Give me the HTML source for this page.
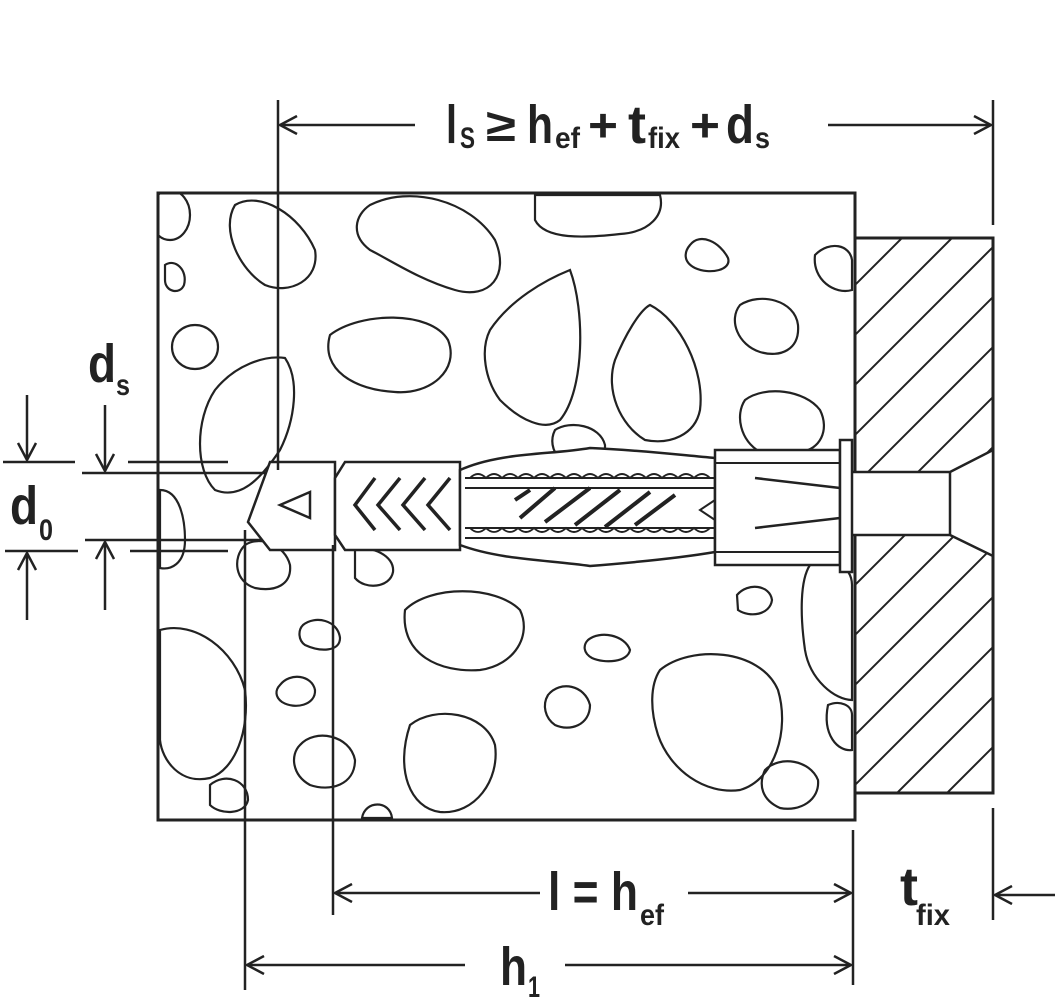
<!DOCTYPE html>
<html><head><meta charset="utf-8"><style>
html,body{margin:0;padding:0;background:#fff;}
svg{display:block}
text{font-family:"Liberation Sans",sans-serif;font-weight:bold;fill:#222}
</style></head><body>
<svg width="1055" height="1000" viewBox="0 0 1055 1000" xmlns="http://www.w3.org/2000/svg">
<defs>
<clipPath id="plate"><rect x="856" y="239" width="137" height="554"/></clipPath>
<clipPath id="conc"><rect x="159" y="194" width="695" height="625"/></clipPath>
<marker id="ar" viewBox="0 0 20 20" refX="19" refY="10" markerWidth="20" markerHeight="20" markerUnits="userSpaceOnUse" orient="auto"><path d="M2,1 L19,10 L2,19" fill="none" stroke="#222" stroke-width="2.5"/></marker>
</defs>
<g fill="none" stroke="#222" stroke-width="2.5">
<g clip-path="url(#conc)" stroke-width="2.2">
<ellipse cx="170" cy="215" rx="20" ry="25"/>
<path d="M235,205 C260,190 300,215 315,250 C320,280 290,295 265,285 C240,270 220,230 235,205Z"/>
<path d="M370,205 C410,185 470,200 495,240 C510,275 490,300 455,290 C420,280 390,260 370,250 C350,235 355,215 370,205Z"/>
<path d="M535,195 L660,195 C665,215 650,232 620,234 C585,238 545,240 535,220Z"/>
<path d="M690,245 C700,232 720,242 728,258 C732,270 710,275 695,268 C683,262 684,252 690,245Z"/>
<path d="M815,255 C830,240 850,245 852,260 L852,290 C835,295 812,280 815,255Z"/>
<path d="M165,265 C175,258 188,270 184,285 C180,295 165,292 165,280Z"/>
<ellipse cx="195" cy="347" rx="23" ry="22"/>
<path d="M330,335 C360,312 430,310 448,340 C460,370 430,395 395,392 C355,390 320,370 330,335Z"/>
<path d="M570,270 C585,310 585,390 560,420 C545,432 520,420 500,400 C485,380 480,350 490,330 C510,300 545,280 570,270Z"/>
<path d="M650,305 C680,320 705,370 700,410 C695,435 670,445 645,440 C620,425 605,390 615,360 C625,335 640,310 650,305Z"/>
<path d="M740,305 C760,292 795,300 798,325 C800,350 780,358 760,352 C738,345 728,320 740,305Z"/>
<path d="M285,358 C300,380 295,420 280,450 C260,480 240,500 215,490 C195,470 195,420 215,390 C235,365 265,355 285,358Z"/>
<path d="M745,400 C765,385 805,390 820,410 C830,430 820,450 800,452 L760,452 C740,440 735,415 745,400Z"/>
<path d="M555,430 C570,420 600,425 605,445 L605,460 L560,460 C552,450 550,440 555,430Z"/>
<path d="M160,490 C180,490 185,520 185,540 C185,565 170,570 160,568Z"/>
<path d="M245,545 C260,535 285,545 290,565 C292,585 275,592 255,588 C235,582 232,558 245,545Z"/>
<path d="M355,550 C370,545 395,555 393,572 C390,588 365,590 355,578Z"/>
<path d="M160,630 C195,620 235,650 245,690 C250,730 235,770 210,778 C180,785 162,760 160,740Z"/>
<path d="M303,625 C315,615 338,620 340,638 C340,652 320,652 305,645 C298,640 298,630 303,625Z"/>
<path d="M280,685 C290,672 312,675 315,690 C316,705 295,710 282,702 C275,697 275,690 280,685Z"/>
<path d="M405,610 C430,585 495,585 520,610 C532,635 515,665 480,670 C440,673 400,655 405,610Z"/>
<path d="M588,640 C600,630 625,635 630,650 C628,662 605,664 592,658 C583,653 583,645 588,640Z"/>
<path d="M737,595 C748,582 770,585 772,600 C770,615 750,618 738,610Z"/>
<path d="M810,565 C830,555 852,565 852,585 L852,700 C835,700 810,680 805,650 C800,615 800,580 810,565Z"/>
<path d="M660,670 C690,645 760,648 778,690 C790,730 775,780 740,790 C705,795 670,770 658,735 C650,710 650,685 660,670Z"/>
<path d="M548,695 C560,680 585,685 590,705 C590,725 570,732 555,725 C545,718 542,705 548,695Z"/>
<path d="M300,745 C315,728 350,735 355,760 C355,785 330,792 310,785 C292,775 290,755 300,745Z"/>
<path d="M410,725 C435,705 485,712 495,745 C500,780 475,815 440,812 C410,808 395,770 410,725Z"/>
<path d="M210,785 C225,772 248,780 248,800 C245,815 220,815 210,805Z"/>
<path d="M765,770 C780,755 810,760 818,780 C820,800 800,812 780,808 C762,800 758,785 765,770Z"/>
<path d="M362,818 C365,800 390,800 392,818Z"/>
<path d="M828,705 C840,700 852,705 852,715 L852,750 C838,752 822,735 828,705Z"/>
</g>
<rect x="158" y="193" width="697" height="627" stroke-width="3"/>
<g clip-path="url(#plate)" stroke-width="2">
<path d="M850,290 L910,230 M850,340 L960,230 M850,390 L1010,230 M850,440 L1010,280 M850,490 L1010,330 M850,540 L1010,380 M850,590 L1010,430 M850,640 L1010,480 M850,690 L1010,530 M850,740 L1010,580 M850,790 L1010,630 M860,830 L1010,680 M910,830 L1010,730 M960,830 L1010,780"/>
</g>
<rect x="855" y="238" width="138" height="555" stroke-width="3"/>
<path d="M852,472 L950,472 L993,450 L993,556 L950,535 L852,535" fill="#fff" stroke-width="2.5"/>
<path d="M950,472 L950,535"/>
<path d="M128,462 L228,462 M82,473 L330,473 M85,540 L330,540 M130,551 L228,551" stroke-width="2.5"/>
<path d="M3,462 L75,462 M5,551 L78,551"/>
<g fill="#fff" stroke-width="2.5">
<path d="M270,462 L335,462 L335,550 L270,550 L248,522 L270,462Z"/>
<path d="M280,505 L310,492 L310,518Z"/>
<path d="M345,462 L460,462 L460,550 L345,550 L335,535 L335,478Z"/>
<path d="M460,470 C500,452 550,455 590,448 C640,450 680,455 715,458 L715,552 C680,558 640,562 590,566 C550,560 500,560 460,545Z"/>
<path d="M715,450 L840,450 L840,565 L715,565Z"/>
<rect x="840" y="440" width="12" height="132"/>
</g>
<path d="M465,478 L715,478 M465,488 L715,488 M465,528 L715,528 M465,538 L715,538" stroke-width="2"/>
<path d="M470,478 q8,-8 16,0 q8,-8 16,0 q8,-8 16,0 q8,-8 16,0 q8,-8 16,0 q8,-8 16,0 q8,-8 16,0 q8,-8 16,0 q8,-8 16,0 q8,-8 16,0 q8,-8 16,0 q8,-8 16,0 q8,-8 16,0 q8,-8 16,0 q8,-8 16,0" stroke-width="1.8"/>
<path d="M470,528 q8,8 16,0 q8,8 16,0 q8,8 16,0 q8,8 16,0 q8,8 16,0 q8,8 16,0 q8,8 16,0 q8,8 16,0 q8,8 16,0 q8,8 16,0 q8,8 16,0 q8,8 16,0 q8,8 16,0 q8,8 16,0 q8,8 16,0" stroke-width="1.8"/>
<path d="M520,518 L555,488 M545,522 L590,488 M575,525 L620,490 M605,527 L650,492 M635,525 L675,495 M515,500 L530,490" stroke-width="4"/>
<path d="M375,478 L355,505 L375,530 M400,478 L378,505 L400,530 M425,478 L403,505 L425,530 M450,478 L428,505 L450,530" stroke-width="3.5"/>
<path d="M715,500 L700,510 L715,520" stroke-width="2"/>
<path d="M755,478 L840,488 M755,528 L840,518" stroke-width="2.5"/>
<path d="M715,463 L840,463 M715,552 L840,552" stroke-width="2"/>
<path d="M278,100 L278,470 M993,100 L993,225 M333,545 L333,915 M245,530 L245,990 M853,830 L853,985 M993,808 L993,920" stroke-width="2.5"/>
<line x1="415" y1="125" x2="280" y2="125" marker-end="url(#ar)"/>
<line x1="828" y1="125" x2="991" y2="125" marker-end="url(#ar)"/>
<line x1="540" y1="893" x2="335" y2="893" marker-end="url(#ar)"/>
<line x1="688" y1="893" x2="851" y2="893" marker-end="url(#ar)"/>
<line x1="465" y1="965" x2="247" y2="965" marker-end="url(#ar)"/>
<line x1="565" y1="965" x2="851" y2="965" marker-end="url(#ar)"/>
<line x1="1055" y1="895" x2="995" y2="895" marker-end="url(#ar)"/>
<line x1="27" y1="395" x2="27" y2="460" marker-end="url(#ar)"/>
<line x1="105" y1="405" x2="105" y2="471" marker-end="url(#ar)"/>
<line x1="27" y1="620" x2="27" y2="553" marker-end="url(#ar)"/>
<line x1="105" y1="610" x2="105" y2="542" marker-end="url(#ar)"/>
</g>
<g lengthAdjust="spacingAndGlyphs">
<text x="446" y="143" font-size="54" textLength="11" lengthAdjust="spacingAndGlyphs">l</text>
<text x="460" y="148" font-size="30" textLength="15" lengthAdjust="spacingAndGlyphs">S</text>
<text x="486" y="141" font-size="46" textLength="30" lengthAdjust="spacingAndGlyphs">≥</text>
<text x="527" y="143" font-size="54" textLength="26" lengthAdjust="spacingAndGlyphs">h</text>
<text x="555" y="148" font-size="30" textLength="25" lengthAdjust="spacingAndGlyphs">ef</text>
<text x="588" y="141" font-size="46" textLength="30" lengthAdjust="spacingAndGlyphs">+</text>
<text x="628" y="143" font-size="54" textLength="18" lengthAdjust="spacingAndGlyphs">t</text>
<text x="648" y="148" font-size="30" textLength="32" lengthAdjust="spacingAndGlyphs">fix</text>
<text x="690" y="141" font-size="46" textLength="30" lengthAdjust="spacingAndGlyphs">+</text>
<text x="726" y="143" font-size="54" textLength="28" lengthAdjust="spacingAndGlyphs">d</text>
<text x="755" y="148" font-size="30" textLength="15" lengthAdjust="spacingAndGlyphs">s</text>

<text x="88" y="382" font-size="54" textLength="28" lengthAdjust="spacingAndGlyphs">d</text>
<text x="116" y="395" font-size="30" textLength="14" lengthAdjust="spacingAndGlyphs">s</text>
<text x="10" y="524" font-size="54" textLength="28" lengthAdjust="spacingAndGlyphs">d</text>
<text x="39" y="540" font-size="30" textLength="14" lengthAdjust="spacingAndGlyphs">0</text>

<text x="548" y="910" font-size="54" textLength="90" lengthAdjust="spacingAndGlyphs">l = h</text>
<text x="640" y="925" font-size="30" textLength="24" lengthAdjust="spacingAndGlyphs">ef</text>
<text x="500" y="985" font-size="54" textLength="27" lengthAdjust="spacingAndGlyphs">h</text>
<text x="528" y="997" font-size="30" textLength="12" lengthAdjust="spacingAndGlyphs">1</text>
<text x="900" y="905" font-size="54" textLength="18" lengthAdjust="spacingAndGlyphs">t</text>
<text x="916" y="925" font-size="30" textLength="34" lengthAdjust="spacingAndGlyphs">fix</text>
</g>
</svg>
</body></html>
